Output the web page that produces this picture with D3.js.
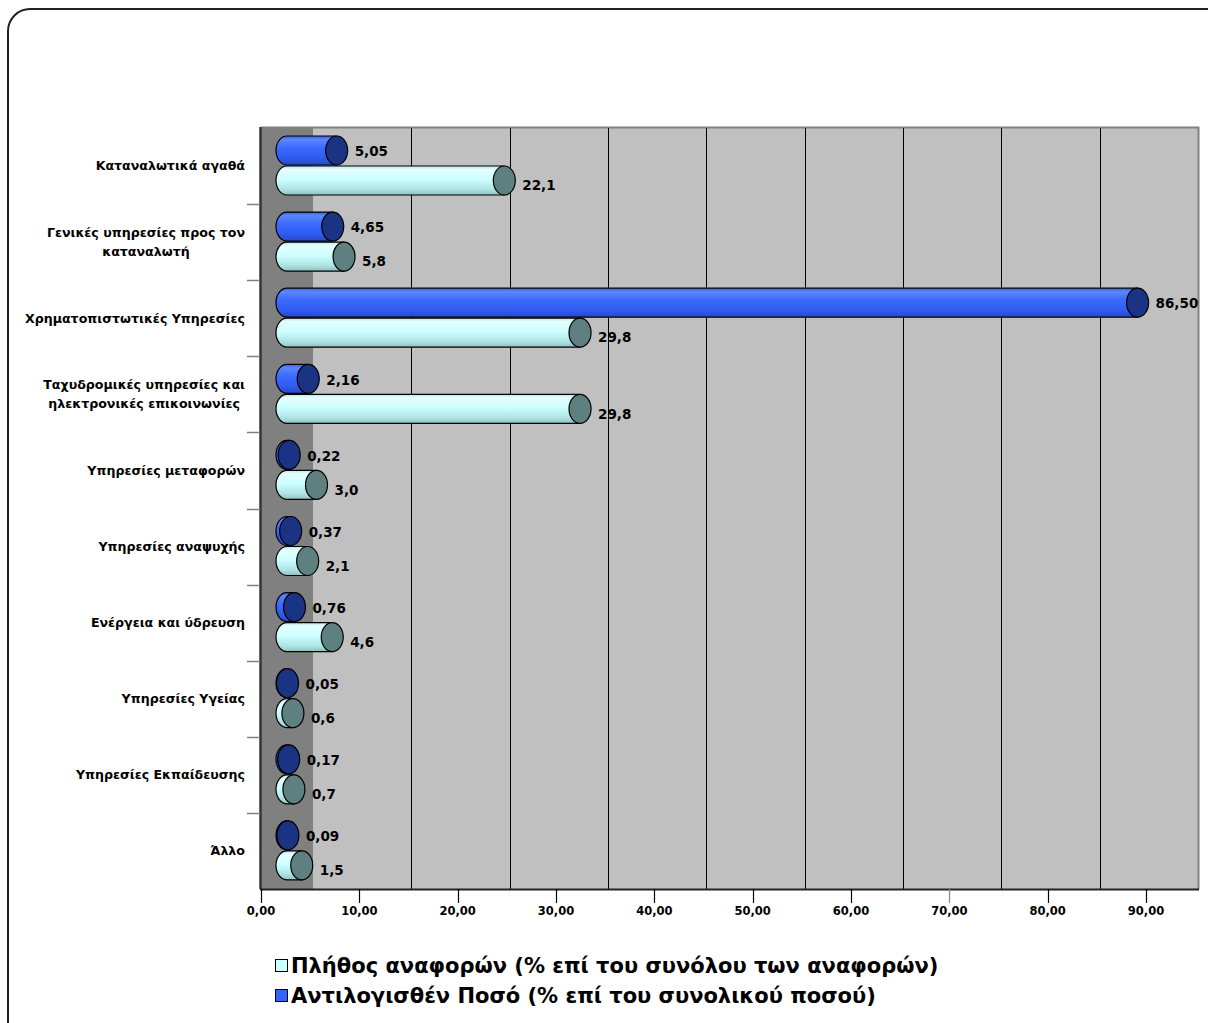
<!DOCTYPE html>
<html>
<head>
<meta charset="utf-8">
<script src="https://cdn.jsdelivr.net/npm/d3@7"></script>
<style>
  body { margin: 0; background: #fff; }
  svg { display: block; font-family: "DejaVu Sans", sans-serif; font-weight: bold; }
</style>
</head>
<body>
<svg id="chart" width="1208" height="1023"></svg>
<script>
// categories, top to bottom ("|" marks a line break in the label)
var categories = [
  "Καταναλωτικά αγαθά",
  "Γενικές υπηρεσίες προς τον|καταναλωτή",
  "Χρηματοπιστωτικές Υπηρεσίες",
  "Ταχυδρομικές υπηρεσίες και|ηλεκτρονικές επικοινωνίες",
  "Υπηρεσίες μεταφορών",
  "Υπηρεσίες αναψυχής",
  "Ενέργεια και ύδρευση",
  "Υπηρεσίες Υγείας",
  "Υπηρεσίες Εκπαίδευσης",
  "Άλλο"
];
// Αντιλογισθέν Ποσό (% επί του συνολικού ποσού)
var amountValues = [5.05, 4.65, 86.50, 2.16, 0.22, 0.37, 0.76, 0.05, 0.17, 0.09];
// Πλήθος αναφορών (% επί του συνόλου των αναφορών)
var countValues = [22.1, 5.8, 29.8, 29.8, 3.0, 2.1, 4.6, 0.6, 0.7, 1.5];
var seriesNames = [
  "Πλήθος αναφορών (% επί του συνόλου των αναφορών)",
  "Αντιλογισθέν Ποσό (% επί του συνολικού ποσού)"
];
var xTicks = [0, 10, 20, 30, 40, 50, 60, 70, 80, 90];

var svg = d3.select('#chart');

// outer frame (runs off the right / bottom edge like the original)
svg.append('rect')
  .attr('x', 8).attr('y', 9)
  .attr('width', 1240).attr('height', 1040)
  .attr('rx', 22)
  .attr('fill', '#fff')
  .attr('stroke', '#222')
  .attr('stroke-width', 2);

var plotTop = 128, plotBottom = 889;
var x = d3.scaleLinear().domain([0, 90]).range([261, 1146]);
var wallShift = 52, barShift = 26;
var xBar = function (v) { return x(v) + barShift; };
var xWall = function (v) { return x(v) + wallShift; };

var y = d3.scaleBand().domain(d3.range(categories.length)).range([plotTop, plotBottom]);
var ySub = d3.scaleBand().domain(['amount', 'count']).range([8, 68]);
var barH = 29, capRx = 11;

// side wall (the "floor" of a horizontal 3D chart)
svg.append('rect')
  .attr('x', x(0)).attr('y', plotTop)
  .attr('width', wallShift).attr('height', plotBottom - plotTop)
  .attr('fill', '#808080');
// back wall
svg.append('rect')
  .attr('x', xWall(0)).attr('y', plotTop)
  .attr('width', xWall(90) - xWall(0)).attr('height', plotBottom - plotTop)
  .attr('fill', '#c0c0c0');
svg.append('path')
  .attr('d', 'M' + x(0) + ',' + (plotTop - 0.5) + 'H' + (xWall(90) + 0.5) + 'V' + plotBottom)
  .attr('fill', 'none')
  .attr('stroke', '#808080')
  .attr('stroke-width', 2);

// gridlines on the back wall
svg.selectAll('line.grid')
  .data(xTicks.slice(1, -1))
  .enter()
  .append('line')
  .classed('grid', true)
  .attr('x1', function (d) { return Math.round(xWall(d)) + 0.5; })
  .attr('x2', function (d) { return Math.round(xWall(d)) + 0.5; })
  .attr('y1', plotTop).attr('y2', plotBottom)
  .attr('stroke', '#000')
  .attr('stroke-width', 1);

// left edge of the side wall
svg.append('line')
  .attr('x1', x(0) - 0.5).attr('x2', x(0) - 0.5)
  .attr('y1', plotTop - 1).attr('y2', plotBottom)
  .attr('stroke', '#333')
  .attr('stroke-width', 2.5);

// category ticks
svg.selectAll('line.ctick')
  .data(d3.range(1, categories.length))
  .enter()
  .append('line')
  .classed('ctick', true)
  .attr('x1', 247).attr('x2', x(0) - 1)
  .attr('y1', function (d) { return Math.round(y(d)) + 0.5; })
  .attr('y2', function (d) { return Math.round(y(d)) + 0.5; })
  .attr('stroke', '#808080')
  .attr('stroke-width', 1.5);

// bottom axis
var axis = svg.append('g').attr('transform', 'translate(0,' + plotBottom + ')');
axis.append('line')
  .attr('x1', x(0) - 1).attr('x2', xWall(90) + 1)
  .attr('y1', 0.5).attr('y2', 0.5)
  .attr('stroke', '#222').attr('stroke-width', 2);
axis.selectAll('line.tick')
  .data(xTicks)
  .enter()
  .append('line')
  .classed('tick', true)
  .attr('x1', function (d) { return Math.round(x(d)) + 0.5; })
  .attr('x2', function (d) { return Math.round(x(d)) + 0.5; })
  .attr('y1', 0).attr('y2', 14)
  .attr('stroke', function (d, i) { return i === 7 ? '#888' : '#000'; })
  .attr('stroke-width', 1.2);
axis.selectAll('text')
  .data(xTicks)
  .enter()
  .append('text')
  .attr('x', function (d) { return x(d); })
  .attr('y', 26)
  .attr('text-anchor', 'middle')
  .style('font-size', '11.5px')
  .text(function (d) { return d.toFixed(2).replace('.', ','); });

// gradients for the cylinders
var defs = svg.append('defs');
var makeGrad = function (id, stops) {
  var g = defs.append('linearGradient').attr('id', id)
    .attr('x1', 0).attr('y1', 0).attr('x2', 0).attr('y2', 1);
  stops.forEach(function (s) {
    g.append('stop').attr('offset', s[0]).attr('stop-color', s[1]);
  });
};
makeGrad('gBlue', [[0, '#3a5ee0'], [0.12, '#5c86ff'], [0.4, '#3d6bff'], [0.75, '#2f5cf0'], [1, '#2a48c8']]);
makeGrad('gCyan', [[0, '#b8e8e8'], [0.12, '#e6ffff'], [0.45, '#ccffff'], [0.8, '#b0e4e4'], [1, '#8fc0c0']]);

var series = [
  { key: 'amount', values: amountValues, body: 'url(#gBlue)', cap: '#1a3385', fmt: 2, dy: 1 },
  { key: 'count', values: countValues, body: 'url(#gCyan)', cap: '#5f8080', fmt: 1, dy: 5 }
];

series.forEach(function (s) {
  var g = svg.append('g').attr('class', 'series-' + s.key);
  var cy = function (i) { return y(i) + ySub(s.key) + barH / 2; };
  var items = g.selectAll('g.bar')
    .data(s.values)
    .enter()
    .append('g')
    .classed('bar', true);
  // body with a rounded left end
  items.append('path')
    .attr('d', function (d, i) {
      var x0 = xBar(0), x1 = xBar(d), c = cy(i), ry = barH / 2;
      return 'M' + x1 + ',' + (c - ry) +
        'H' + x0 +
        'A' + capRx + ',' + ry + ' 0 0 0 ' + x0 + ',' + (c + ry) +
        'H' + x1 + 'Z';
    })
    .attr('fill', s.body)
    .attr('stroke', '#000')
    .attr('stroke-width', 1.2);
  // end cap
  items.append('ellipse')
    .attr('cx', function (d) { return xBar(d); })
    .attr('cy', function (d, i) { return cy(i); })
    .attr('rx', capRx)
    .attr('ry', barH / 2)
    .attr('fill', s.cap)
    .attr('stroke', '#000')
    .attr('stroke-width', 1.2);
  // value label
  items.append('text')
    .attr('x', function (d) { return xBar(d) + capRx + 7; })
    .attr('y', function (d, i) { return cy(i) + s.dy; })
    .attr('dy', '0.35em')
    .style('font-size', '13.5px')
    .text(function (d) { return d.toFixed(s.fmt).replace('.', ','); });
});

// category labels, right aligned as a block, lines centred within it
var labels = svg.append('g').attr('class', 'cat-labels');
categories.forEach(function (c, i) {
  var lines = c.split('|');
  var cyc = y(i) + y.bandwidth() / 2;
  var t = labels.append('text')
    .style('font-size', '12.6px')
    .attr('text-anchor', 'middle');
  var spans = lines.map(function (ln, k) {
    return t.append('tspan')
      .attr('y', cyc + (k - (lines.length - 1) / 2) * 19)
      .attr('dy', '0.35em')
      .text(ln);
  });
  var w = d3.max(spans, function (sp) { return sp.node().getComputedTextLength(); });
  spans.forEach(function (sp) { sp.attr('x', 245 - w / 2); });
});

// legend
var legend = svg.append('g').attr('class', 'legend');
var legendFill = ['#ccffff', '#3366ff'];
seriesNames.forEach(function (name, i) {
  var ly = 966 + i * 30;
  legend.append('rect')
    .attr('x', 275.5).attr('y', ly - 6.5)
    .attr('width', 12).attr('height', 12)
    .attr('fill', legendFill[i])
    .attr('stroke', '#000')
    .attr('stroke-width', 1);
  legend.append('text')
    .attr('x', 291)
    .attr('y', ly)
    .attr('dy', '0.35em')
    .style('font-size', '21px')
    .text(name);
});
</script>
</body>
</html>
